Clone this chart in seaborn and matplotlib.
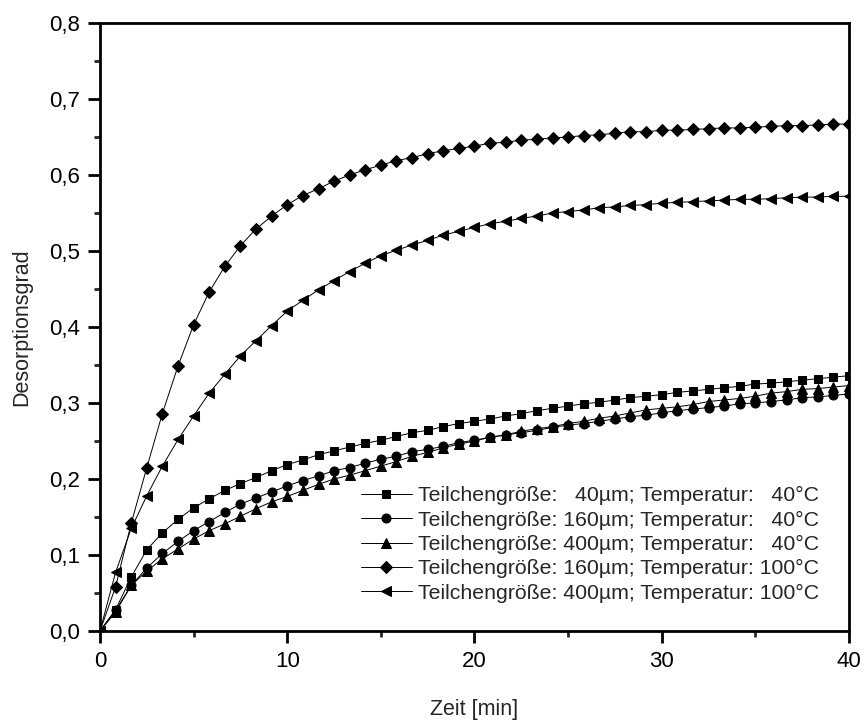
import matplotlib
matplotlib.use("Agg")
import matplotlib.pyplot as plt
import seaborn as sns
import pandas as pd
from matplotlib.ticker import MultipleLocator, FuncFormatter

# Daten
zeit = [0, 0.83, 1.67, 2.5, 3.33, 4.17, 5, 5.83, 6.67, 7.5, 8.33, 9.17, 10,
        10.83, 11.67, 12.5, 13.33, 14.17, 15, 15.83, 16.67, 17.5, 18.33, 19.17,
        20, 20.83, 21.67, 22.5, 23.33, 24.17, 25, 25.83, 26.67, 27.5, 28.33,
        29.17, 30, 30.83, 31.67, 32.5, 33.33, 34.17, 35, 35.83, 36.67, 37.5,
        38.33, 39.17, 40]

d40_40 = [0, 0.028, 0.071, 0.107, 0.129, 0.147, 0.162, 0.174, 0.185, 0.194,
          0.202, 0.211, 0.219, 0.225, 0.232, 0.237, 0.242, 0.247, 0.251, 0.256,
          0.261, 0.264, 0.269, 0.273, 0.276, 0.279, 0.283, 0.286, 0.290, 0.293,
          0.296, 0.299, 0.301, 0.304, 0.307, 0.309, 0.311, 0.314, 0.316, 0.318,
          0.320, 0.322, 0.325, 0.326, 0.328, 0.330, 0.332, 0.334, 0.336]

d160_40 = [0, 0.027, 0.060, 0.083, 0.102, 0.118, 0.132, 0.144, 0.156, 0.167,
           0.175, 0.183, 0.191, 0.198, 0.204, 0.211, 0.215, 0.221, 0.226, 0.230,
           0.236, 0.239, 0.243, 0.248, 0.251, 0.255, 0.258, 0.261, 0.264, 0.268,
           0.271, 0.273, 0.276, 0.279, 0.282, 0.284, 0.287, 0.290, 0.292, 0.294,
           0.296, 0.299, 0.300, 0.302, 0.304, 0.307, 0.308, 0.310, 0.312]

d400_40 = [0, 0.025, 0.060, 0.079, 0.095, 0.108, 0.121, 0.132, 0.141, 0.151,
           0.161, 0.170, 0.177, 0.185, 0.193, 0.200, 0.205, 0.211, 0.217, 0.223,
           0.230, 0.235, 0.241, 0.246, 0.250, 0.255, 0.258, 0.263, 0.266, 0.269,
           0.273, 0.276, 0.280, 0.283, 0.287, 0.291, 0.293, 0.295, 0.298, 0.302,
           0.304, 0.306, 0.309, 0.313, 0.315, 0.318, 0.319, 0.321, 0.323]

d160_100 = [0, 0.058, 0.142, 0.215, 0.286, 0.349, 0.403, 0.446, 0.480, 0.507,
            0.529, 0.546, 0.561, 0.573, 0.582, 0.592, 0.600, 0.607, 0.613, 0.619,
            0.623, 0.628, 0.632, 0.635, 0.638, 0.642, 0.643, 0.646, 0.647, 0.649,
            0.650, 0.652, 0.653, 0.655, 0.657, 0.657, 0.659, 0.659, 0.660, 0.661,
            0.662, 0.662, 0.663, 0.664, 0.665, 0.665, 0.666, 0.667, 0.667]

d400_100 = [0, 0.077, 0.135, 0.178, 0.217, 0.252, 0.283, 0.313, 0.338, 0.362,
            0.382, 0.402, 0.421, 0.435, 0.449, 0.461, 0.473, 0.484, 0.494, 0.501,
            0.508, 0.514, 0.521, 0.526, 0.531, 0.536, 0.539, 0.543, 0.546, 0.550,
            0.552, 0.554, 0.557, 0.558, 0.560, 0.561, 0.563, 0.564, 0.565, 0.566,
            0.567, 0.568, 0.568, 0.569, 0.570, 0.571, 0.571, 0.572, 0.572]

labels = [
    "Teilchengröße:   40µm; Temperatur:   40°C",
    "Teilchengröße: 160µm; Temperatur:   40°C",
    "Teilchengröße: 400µm; Temperatur:   40°C",
    "Teilchengröße: 160µm; Temperatur: 100°C",
    "Teilchengröße: 400µm; Temperatur: 100°C",
]
reihen = [d40_40, d160_40, d400_40, d160_100, d400_100]
marker = ["s", "o", "^", "D", "<"]
msize = [6, 6.5, 7, 6.5, 7]

sns.set_theme(style="ticks")
plt.rcParams["font.family"] = ["Liberation Sans", "DejaVu Sans"]

fig = plt.figure(figsize=(8.65, 7.2), dpi=100)
ax = fig.add_axes([0.1156, 0.1236, 0.8659, 0.8444])

for lab, werte, m, ms in zip(labels, reihen, marker, msize):
    df = pd.DataFrame({"Zeit": zeit, "Wert": werte})
    sns.lineplot(data=df, x="Zeit", y="Wert", ax=ax, color="black",
                 linewidth=0.7, marker=m, markersize=ms,
                 markeredgecolor="black", markerfacecolor="black",
                 label=lab)

ax.set_xlim(0, 40)
ax.set_ylim(0, 0.8)
ax.xaxis.set_major_locator(MultipleLocator(10))
ax.xaxis.set_minor_locator(MultipleLocator(5))
ax.yaxis.set_major_locator(MultipleLocator(0.1))
ax.yaxis.set_minor_locator(MultipleLocator(0.05))
ax.yaxis.set_major_formatter(FuncFormatter(lambda v, p: f"{v:.1f}".replace(".", ",")))

for s in ax.spines.values():
    s.set_linewidth(2.0)
    s.set_color("black")
ax.tick_params(which="major", direction="out", length=8.5, width=2.0,
               labelsize=16, colors="black", pad=6)
ax.tick_params(which="minor", direction="out", length=4.3, width=2.0)

ax.set_xlabel("Zeit [min]", fontsize=15.5, labelpad=19)
ax.set_ylabel("Desorptionsgrad", fontsize=15.5, labelpad=12)

ax.legend(loc="lower right", bbox_to_anchor=(0.98, 0.022), frameon=False,
          fontsize=15.3, handlelength=2.4, handletextpad=0.3, labelspacing=0.25,
          borderpad=0.2)

fig.savefig("out.png", dpi=100)
